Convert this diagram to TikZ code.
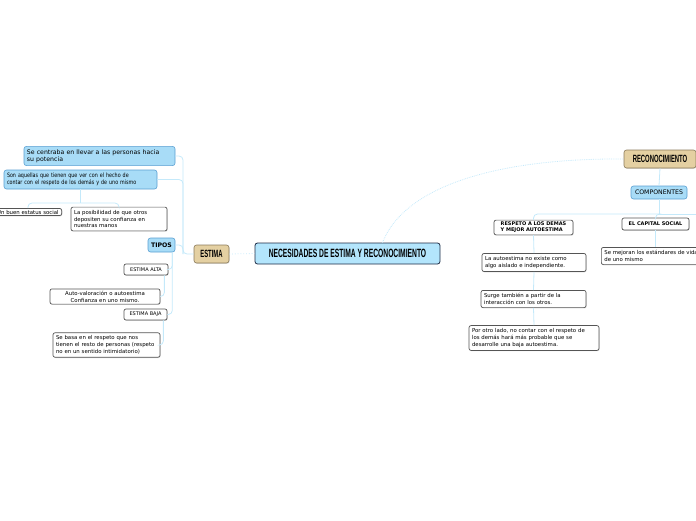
\documentclass[tikz,border=0pt]{standalone}
\usepackage{fontspec}
\setmainfont{DejaVu Sans}
\newfontfamily\headfont[FakeStretch=0.56]{Liberation Sans}
\newfontfamily\narrowfont[FakeStretch=0.8]{DejaVu Sans}
\usepackage{xcolor}
\usetikzlibrary{positioning,shadows,calc}

\definecolor{linkblue}{HTML}{C4E9FA}
\definecolor{rootfill}{HTML}{B3E5FC}
\definecolor{rootdraw}{HTML}{1E2B45}
\definecolor{subfill}{HTML}{A8DCF7}
\definecolor{subdraw}{HTML}{5A9FD2}
\definecolor{mainfill}{HTML}{E4D0A2}
\definecolor{maindraw}{HTML}{8A7A5A}
\definecolor{leafdraw}{HTML}{555555}

\begin{document}
\begin{tikzpicture}[
  x=1pt, y=-1pt,
  root/.style={draw=rootdraw, fill=rootfill, rounded corners=2.5pt, line width=0.8pt, minimum width=185pt, minimum height=21pt, inner sep=0pt, font=\headfont\bfseries\fontsize{12}{13}\selectfont},
  mainbox/.style={draw=maindraw, fill=mainfill, rounded corners=2.5pt, line width=0.6pt, minimum height=18pt, inner sep=0pt, font=\headfont\bfseries\fontsize{10.5}{11}\selectfont, drop shadow={shadow xshift=0.6pt, shadow yshift=-0.8pt, opacity=0.25}},
  subbox/.style={draw=subdraw, fill=subfill, rounded corners=2.5pt, line width=0.6pt, inner sep=3pt, align=left, font=\fontsize{6.2}{7.2}\selectfont},
  leaf/.style={draw=leafdraw, fill=white, rounded corners=2pt, line width=0.7pt, inner sep=3pt, align=left, font=\fontsize{5.4}{6.8}\selectfont, drop shadow={shadow xshift=0.6pt, shadow yshift=-0.8pt, opacity=0.3}},
  tag/.style={leaf, align=center, inner sep=0pt, minimum height=11pt, font=\fontsize{5}{6}\selectfont},
  link/.style={draw=linkblue, line width=0.8pt, rounded corners=4pt}
]
\useasboundingbox (0,0) rectangle (696,520);
\clip (0,0) rectangle (696,520);

% central topic
\node[root] (root) at (347.5,253.5) {NECESIDADES DE ESTIMA Y RECONOCIMIENTO};

% main topics
\node[mainbox, minimum width=35pt] (estima) at (211.5,254) {ESTIMA};
\node[mainbox, minimum width=72pt] (reco) at (660,159) {RECONOCIMIENTO};

% left branch (estima)
\node[subbox, text width=145pt] (centraba) at (99.5,156) {Se centraba en llevar a las personas hacia\\su potencia};
\node[subbox, text width=147pt, font=\narrowfont\fontsize{6}{7.2}\selectfont] (aquellas) at (80.5,179.5) {Son aquellas que tienen que ver con el hecho de\\contar con el respeto de los demás y de uno mismo};
\node[leaf, anchor=east, inner ysep=1.5pt] (estatus) at (62,212) {Un buen estatus social};
\node[leaf, text width=90pt] (posib) at (119,219) {La posibilidad de que otros\\depositen su confianza en\\nuestras manos};
\node[subbox, inner sep=0pt, minimum width=27pt, minimum height=14pt, font=\bfseries\fontsize{6.2}{7}\selectfont] (tipos) at (161.5,245) {TIPOS};
\node[tag, minimum width=44pt] (alta) at (146,269.5) {ESTIMA ALTA};
\node[leaf, align=center, minimum width=110pt, inner ysep=2pt] (auto) at (105,296.5) {Auto-valoración o autoestima\\Confianza en uno mismo.};
\node[tag, minimum width=43pt] (baja) at (145.5,314.5) {ESTIMA BAJA};
\node[leaf, text width=101pt] (sebasa) at (106.5,345) {Se basa en el respeto que nos\\tienen el resto de personas (respeto\\no en un sentido intimidatorio)};

% right branch (reconocimiento)
\node[subbox, inner sep=0pt, minimum width=56pt, minimum height=13pt, align=center] (comp) at (659,192.5) {COMPONENTES};
\node[leaf, align=left, inner ysep=2pt, minimum width=79pt, font=\bfseries\fontsize{5}{6}\selectfont] (respeto) at (533.5,227.5) {RESPETO A LOS DEMAS\\Y MEJOR AUTOESTIMA};
\node[tag, minimum width=67pt, minimum height=12pt, font=\bfseries\fontsize{5}{6}\selectfont] (capital) at (655.5,224) {EL CAPITAL SOCIAL};
\node[leaf, anchor=west] (mejoran) at (601,256) {Se mejoran los estándares de vida\\de uno mismo};
\node[leaf, text width=98pt] (autoest) at (534,262.5) {La autoestima no existe como\\algo aislado e independiente.};
\node[leaf, text width=99pt] (surge) at (533.5,299) {Surge también a partir de la\\interacción con los otros.};
\node[leaf, text width=124pt] (otro) at (534,338) {Por otro lado, no contar con el respeto de\\los demás hará más probable que se\\desarrolle una baja autoestima.};

% connectors
\coordinate (ejeE) at (183,254);
\coordinate (ejeA) at (80.5,203);
\coordinate (ejeC) at (659,214);
\coordinate (fuera) at (700,214);

\draw[link, dotted] (estima.east) -- (root.west);
\draw[link, densely dotted, rounded corners=0pt] ([xshift=35pt]root.north) .. controls (405,185) and (500,158) .. (reco.west);

\draw[link] (centraba.east) -| (ejeE) -- (estima.west);
\draw[link] (aquellas.east) -| (ejeE);
\draw[link] (tipos.east) -| (ejeE);
\draw[link] (aquellas.south) -- (ejeA);
\draw[link] (ejeA) -| (estatus.north);
\draw[link] (ejeA) -| (posib.north);
\draw[link] ([xshift=-3pt]tipos.south east) |- (alta.east);
\draw[link] ([xshift=-3pt]tipos.south east) |- (baja.east);
\draw[link] ([xshift=-4pt]alta.south east) |- (auto.east);
\draw[link] ([xshift=-4pt]baja.south east) |- (sebasa.east);

\draw[link] (reco.south) -- (comp.north);
\draw[link] (comp.south) -- (ejeC);
\draw[link] (ejeC) -| (respeto.north);
\draw[link] (ejeC) -| (capital.north);
\draw[link] (ejeC) -- (fuera);
\draw[link] (capital.south) -- (capital.south |- mejoran.north);
\draw[link] (respeto.south) -- (autoest.north);
\draw[link] (autoest.south) -- (surge.north);
\draw[link] (surge.south) -- (otro.north);
\end{tikzpicture}
\end{document}
